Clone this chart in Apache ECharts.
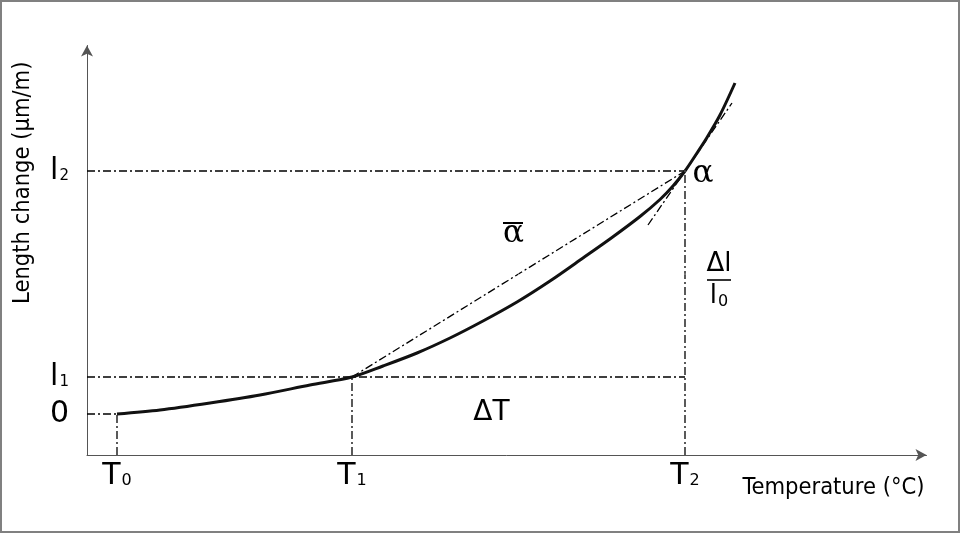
<!DOCTYPE html>
<html><head><meta charset="utf-8">
<script src="https://cdn.jsdelivr.net/npm/echarts@6/dist/echarts.min.js"></script>
<style>
html,body{margin:0;padding:0;background:#fff;}
#wrap{position:relative;width:960px;height:533px;}
#chart{width:960px;height:533px;}
#wrap:after{content:'';position:absolute;left:0;top:0;right:0;bottom:0;border:2px solid #808080;pointer-events:none;}
</style></head><body>
<div id="wrap"><div id="chart"></div></div>
<script>
// ---- data (schematic units) ----
const tempTicks = [0, 235, 568];                 // T0, T1, T2
const tempTickLabels = ['T{s|0}', 'T{s|1}', 'T{s|2}'];
const lenTicks = [0, 37, 243];                   // 0, l1, l2
const lenTickLabels = ['0', 'l{s|1}', 'l{s|2}'];
const curveT = [0, 43, 93, 143, 193, 235, 266, 300, 333, 366, 400, 433, 466, 495, 523, 543, 556, 568, 580, 590, 603, 618];
const curveL = [0, 4, 11, 19, 29, 37, 48, 61, 76, 93, 112, 133, 156, 176.5, 197.5, 214.5, 228, 243, 261, 276.5, 299, 331];
const tangentT = [531, 615];
const tangentL = [189, 311];
const axisMinT = -30, axisMaxT = 809.5;
const axisMinL = -41, axisMaxL = 368.5;

const [T0, T1, T2] = tempTicks;
const [L0, L1, L2] = lenTicks;

const dash = {color: '#000', width: 1.3, type: [8, 3, 2, 3]};
function seg(a, b) {
  return {type: 'line', data: [a, b], symbol: 'none', lineStyle: dash, silent: true, z: 2, animation: false};
}
const curveData = curveT.map((t, i) => [t, curveL[i]]);

const sansMain = {fontFamily: 'DejaVu Sans', fontSize: 30, color: '#000'};
const subX = {s: {fontFamily: 'DejaVu Sans', fontSize: 16, color: '#000', verticalAlign: 'bottom', padding: [0, 0, 2, 1]}};
const subY = {s: {fontFamily: 'DejaVu Sans', fontSize: 15, color: '#000', verticalAlign: 'bottom', padding: [0, 0, 2, 1]}};

const chart = echarts.init(document.getElementById('chart'), null, {renderer: 'canvas'});
const option = {
  animation: false,
  backgroundColor: '#fff',
  grid: {left: 87, right: 33.5, top: 45.5, bottom: 78, containLabel: false, outerBoundsMode: 'none'},
  xAxis: {
    type: 'value', min: axisMinT, max: axisMaxT,
    name: 'Temperature (°C)', nameLocation: 'end', nameGap: -2,
    nameTextStyle: {fontFamily: 'DejaVu Sans Condensed', fontSize: 23.5, color: '#000', align: 'right', verticalAlign: 'top', padding: [21, 0, 0, 0]},
    axisLine: {show: true, onZero: false, symbol: ['none', 'arrow'], symbolSize: [9, 11], lineStyle: {color: '#555', width: 1}},
    axisTick: {show: false}, splitLine: {show: false},
    axisLabel: {customValues: tempTicks, margin: 6, ...sansMain, rich: subX,
      formatter: v => tempTickLabels[tempTicks.indexOf(v)] || ''}
  },
  yAxis: {
    type: 'value', min: axisMinL, max: axisMaxL,
    name: 'Length change (µm/m)', nameLocation: 'middle', nameGap: 52, nameRotate: 90,
    nameTextStyle: {fontFamily: 'DejaVu Sans Condensed', fontSize: 23.5, color: '#000', padding: [0, 0, 0, 135]},
    axisLine: {show: true, onZero: false, symbol: ['none', 'arrow'], symbolSize: [9, 11], lineStyle: {color: '#555', width: 1}},
    axisTick: {show: false}, splitLine: {show: false},
    axisLabel: {customValues: lenTicks, margin: 18, ...sansMain, rich: subY,
      formatter: v => lenTickLabels[lenTicks.indexOf(v)] || ''}
  },
  series: [
    seg([axisMinT, L2], [T2, L2]),
    seg([axisMinT, L1], [T2, L1]),
    seg([axisMinT, L0], [T0, L0]),
    seg([T0, axisMinL], [T0, L0]),
    seg([T1, axisMinL], [T1, L1]),
    seg([T2, axisMinL], [T2, L2]),
    seg([T1, L1], [T2, L2]),
    seg([tangentT[0], tangentL[0]], [tangentT[1], tangentL[1]]),
    {type: 'line', data: curveData, smooth: 0.3, symbol: 'none', z: 5,
      lineStyle: {color: '#111', width: 3}},
    {type: 'scatter', symbolSize: 1, itemStyle: {color: '#ffffff', opacity: 1}, z: 6, silent: true,
      label: {show: true, position: 'inside', color: '#000'},
      data: [
        {value: [T2, L2], label: {formatter: 'α', color: '#000', fontFamily: 'DejaVu Serif', fontSize: 31, offset: [18, 3]}},
        {value: [(T1 + T2) / 2, (L1 + L2) / 2], label: {formatter: 'α', color: '#000', fontFamily: 'DejaVu Serif', fontSize: 31, offset: [-5, -40]}},
        {value: [(T1 + T2) / 2, L0], label: {formatter: 'ΔT', color: '#000', fontFamily: 'DejaVu Sans', fontSize: 28, offset: [-27, -1]}},
        {value: [T2, (L1 + L2) / 2], label: {formatter: 'Δl\nl{s|0}', color: '#000', fontFamily: 'DejaVu Sans', fontSize: 26, lineHeight: 32, offset: [34, 6],
          rich: {s: {fontFamily: 'DejaVu Sans', fontSize: 16, color: '#000', verticalAlign: 'bottom', lineHeight: 32, padding: [0, 0, 2, 1]}}}}
      ]}
  ]
};
chart.setOption(option);
// fraction bar of Δl / l0 and the bar over the mean α, anchored to data points
const p = chart.convertToPixel({gridIndex: 0}, [T2, (L1 + L2) / 2]);
chart.setOption({graphic: [
  {type: 'line', shape: {x1: p[0] + 22, y1: p[1] + 6, x2: p[0] + 46, y2: p[1] + 6}, style: {stroke: '#000', lineWidth: 1.6}, z: 10},
  {type: 'line', shape: {x1: p[0] - 182, y1: p[1] - 51, x2: p[0] - 162, y2: p[1] - 51}, style: {stroke: '#000', lineWidth: 2}, z: 10}
]});
</script>
</body></html>
